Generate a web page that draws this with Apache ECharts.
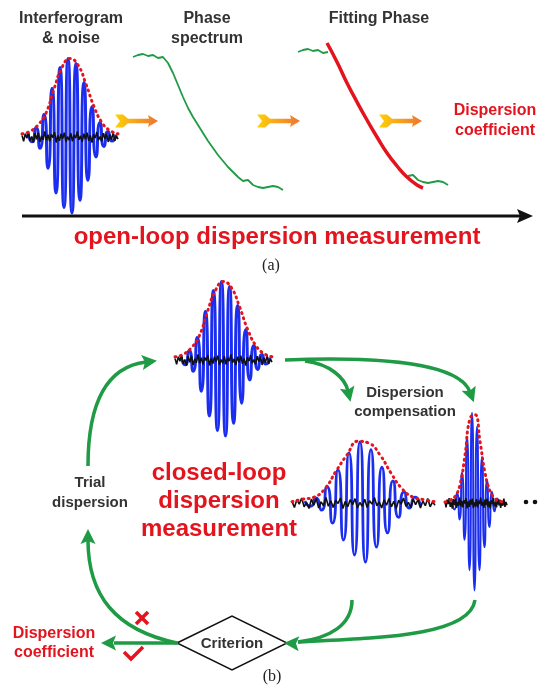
<!DOCTYPE html>
<html>
<head>
<meta charset="utf-8">
<script src="https://cdn.jsdelivr.net/npm/echarts@6/dist/echarts.min.js"></script>
<style>
  html, body { margin: 0; padding: 0; background: #fff; }
  #main { width: 541px; height: 690px; }
</style>
</head>
<body>
<div id="main"></div>
<script>
// ---- data ----
// interferogram peaks (alternating +/-, half a fringe apart), normalised amplitude
const ifgSource = [0.04, -0.06, 0.12, -0.14, 0.28, -0.39, 0.61, -0.70, 0.87, -0.88, 0.98, -0.95, 0.92, -0.79, 0.68, -0.54, 0.38, -0.25, 0.18, -0.12, 0.07, -0.05, 0.03]
const envSource = [0.04, 0.07, 0.15, 0.30, 0.60, 0.87, 0.98, 0.90, 0.66, 0.38, 0.18, 0.08, 0.04]
// chirped (broadened) interferogram
const ifgWide = [0.03, -0.05, 0.08, -0.11, 0.25, -0.31, 0.51, -0.57, 0.77, -0.80, 0.94, -0.91, 0.82, -0.68, 0.55, -0.46, 0.34, -0.22, 0.17, -0.08, 0.09, -0.05]
const envWide = [0.02, 0.06, 0.09, 0.22, 0.49, 0.74, 0.95, 0.92, 0.74, 0.46, 0.22, 0.09, 0.05, 0.02]
// compensated (narrow) interferogram
const ifgNarrow = [0.04, -0.07, 0.11, -0.18, 0.33, -0.40, 0.72, -0.73, 0.98, -0.95, 0.83, -0.73, 0.50, -0.48, 0.25, -0.26, 0.12, -0.09, 0.05, -0.03]
const envNarrow = [0.01, 0.03, 0.07, 0.20, 0.52, 0.92, 0.96, 0.67, 0.33, 0.13, 0.05, 0.02, 0.01]
// baseline noise
const noise = [0.3, -0.8, 0.6, -0.2, 0.9, -0.7, 0.1, -1, 0.7, -0.4, 0.8, -0.9, 0.2, -0.5, 1, -0.6, 0.4, -0.8, 0.5, -0.1,
  0.9, -1, 0.3, -0.7, 0.6, -0.3, 0.8, -0.9, 0.1, -0.6, 0.7, -0.8, 0.4, -0.2, 1, -0.5, 0.2, -0.9, 0.6, -0.4,
  0.8, -0.7, 0.3, -1, 0.5, -0.2, 0.9, -0.6, 0.1, -0.8, 0.7, -0.3, 0.6, -0.9, 0.4, -0.5, 0.8, -0.7, 0.2, -0.4]
// measured phase spectrum (rad) at 31 frequency samples
const phaseSpectrum = [13.3, 13.5, 13.6, 13.4, 13.5, 13.2, 13.3, 12.7, 11.7, 10.5, 9.3, 8.2, 7.3, 6.5, 5.7, 4.9,
  4.2, 3.5, 2.9, 2.3, 1.8, 1.3, 0.9, 1.0, 0.5, 0.3, 0.2, 0.3, 0.4, 0.3, 0.0]
// fitted phase
const fitFreq = [5.8, 7.8, 9.8, 11.8, 13.8, 15.8, 17.8, 19.8, 21.8, 23.8, 25]
const fitPhase = [14.2, 12.3, 10.2, 8.3, 6.5, 4.8, 3.2, 1.9, 0.8, 0.0, -0.3]
const hiddenUnderFit = [7, 21]

// ---- colours ----
const BLUE = '#1b2ef0'
const RED = '#e3141e'
const GREEN = '#1f9a45'
const DARK = '#333'

let myChart = echarts.init(document.getElementById('main'))

// interferogram panels: grid box + axis span
let panels = [
  { box: { left: 22, top: 57, width: 96, height: 160 }, span: 24, peaks: ifgSource, start: 1.5, env: envSource, noiseAmp: 5.5 / 80, lw: 3 },
  { box: { left: 175, top: 280, width: 97, height: 160 }, span: 24, peaks: ifgSource, start: 1.5, env: envSource, noiseAmp: 5.5 / 80, lw: 3 },
  { box: { left: 292, top: 438, width: 143, height: 130 }, span: 26, peaks: ifgWide, start: 2.36, env: envWide, noiseAmp: 5.5 / 65, lw: 2.8 },
  { box: { left: 445, top: 411, width: 62, height: 184 }, span: 24.8, peaks: ifgNarrow, start: 2.8, env: envNarrow, noiseAmp: 5.5 / 92, lw: 2 }
]

let grids = [], xAxes = [], yAxes = [], series = []

panels.forEach((p, k) => {
  grids.push(p.box)
  xAxes.push({ type: 'value', gridIndex: k, min: 0, max: p.span, show: false })
  yAxes.push({ type: 'value', gridIndex: k, min: -1, max: 1, show: false })
  series.push({
    type: 'line', xAxisIndex: k, yAxisIndex: k, symbol: 'none', smooth: 0.8,
    lineStyle: { color: BLUE, width: p.lw },
    data: p.peaks.map((v, i) => [p.start + i, v])
  })
  series.push({
    type: 'line', xAxisIndex: k, yAxisIndex: k, symbol: 'none',
    lineStyle: { color: '#111', width: 1.6 },
    data: noise.map((v, i) => [i * p.span / (noise.length - 1), v * p.noiseAmp])
  })
  series.push({
    type: 'line', xAxisIndex: k, yAxisIndex: k, symbol: 'none', smooth: true,
    lineStyle: { color: RED, width: 3, type: [1, 4.5], cap: 'round' },
    data: p.env.map((v, i) => [i * 2, v])
  })
})

// phase spectrum panel and fitting panel
let phaseBoxes = [
  { left: 133, top: 40, width: 150, height: 160 },
  { left: 298, top: 35, width: 150, height: 160 }
]
phaseBoxes.forEach(b => {
  let k = grids.length
  grids.push(b)
  xAxes.push({ type: 'value', gridIndex: k, min: 0, max: 30, show: false })
  yAxes.push({ type: 'value', gridIndex: k, min: -1, max: 15, show: false })
})
series.push({
  type: 'line', xAxisIndex: 4, yAxisIndex: 4, symbol: 'none',
  lineStyle: { color: GREEN, width: 1.8 },
  data: phaseSpectrum.map((v, i) => [i, v])
})
series.push({
  type: 'line', xAxisIndex: 5, yAxisIndex: 5, symbol: 'none',
  lineStyle: { color: GREEN, width: 1.8 },
  data: phaseSpectrum.map((v, i) => [i, (i >= hiddenUnderFit[0] && i <= hiddenUnderFit[1]) ? null : v])
})
series.push({
  type: 'line', xAxisIndex: 5, yAxisIndex: 5, symbol: 'none', smooth: true, clip: false,
  lineStyle: { color: RED, width: 3.5 },
  data: fitFreq.map((f, i) => [f, fitPhase[i]])
})

// ---- drawing helpers ----
function txt(text, x, y, size, color, extra) {
  return {
    type: 'text', z: 10,
    style: Object.assign({
      text: text, x: x, y: y, fill: color, align: 'center', verticalAlign: 'middle',
      font: 'bold ' + size + 'px "Liberation Sans", Arial, sans-serif', lineHeight: size * 1.25
    }, extra || {})
  }
}

function head(tx, ty, dx, dy, len, half, color) {
  let n = Math.sqrt(dx * dx + dy * dy)
  dx /= n; dy /= n
  let bx = tx - dx * len, by = ty - dy * len
  return {
    type: 'polygon', z: 10,
    shape: { points: [[tx, ty], [bx - dy * half, by + dx * half], [bx + dx * 3, by + dy * 3], [bx + dy * half, by - dx * half]] },
    style: { fill: color }
  }
}

function curve(p0, p1, p2, p3) {
  return {
    type: 'bezierCurve', z: 10,
    shape: { x1: p0[0], y1: p0[1], cpx1: p1[0], cpy1: p1[1], cpx2: p2[0], cpy2: p2[1], x2: p3[0], y2: p3[1] },
    style: { stroke: GREEN, lineWidth: 3.5, fill: null }
  }
}

function curveArrow(p0, p1, p2, p3) {
  let dx = p3[0] - p2[0], dy = p3[1] - p2[1]
  let n = Math.sqrt(dx * dx + dy * dy)
  return [curve(p0, p1, p2, p3), head(p3[0] + dx / n * 11, p3[1] + dy / n * 11, dx, dy, 15, 7.5, GREEN)]
}

function yellowArrow(x0, y0) {
  let L = 43
  let pts = [[0, -6.5], [8, -6.5], [13, -2.2], [L - 9, -2.2], [L - 10, -6], [L, 0], [L - 10, 6], [L - 9, 2.2], [13, 2.2], [8, 6.5], [0, 6.5], [5, 0]]
  return {
    type: 'polygon', z: 10,
    shape: { points: pts.map(p => [x0 + p[0], y0 + p[1]]) },
    style: {
      fill: new echarts.graphic.LinearGradient(0, 0, 1, 0, [
        { offset: 0, color: '#ffd000' },
        { offset: 0.3, color: '#f9b418' },
        { offset: 1, color: '#ee7432' }
      ])
    }
  }
}

let graphics = [
  // (a) titles
  txt('Interferogram\n& noise', 71, 29, 16, DARK),
  txt('Phase\nspectrum', 207, 29, 16, DARK),
  txt('Fitting Phase', 379, 19, 16, DARK),
  txt('Dispersion\ncoefficient', 495, 121, 16, RED),
  yellowArrow(115, 121),
  yellowArrow(257, 121),
  yellowArrow(379, 121),
  // time axis
  { type: 'line', z: 10, shape: { x1: 22, y1: 216, x2: 520, y2: 216 }, style: { stroke: '#111', lineWidth: 3 } },
  head(533, 216, 1, 0, 16, 7, '#111'),
  txt('open-loop dispersion measurement', 277, 237, 24, RED),
  txt('(a)', 271, 266, 16, '#222', { font: '16px "Liberation Serif", "Times New Roman", serif' }),

  // (b)
  txt('Dispersion\ncompensation', 405, 402, 15, DARK),
  txt('closed-loop\ndispersion\nmeasurement', 219, 501, 24, RED, { lineHeight: 28 }),
  txt('Trial\ndispersion', 90, 493, 15, DARK, { lineHeight: 20 }),
  txt('Dispersion\ncoefficient', 54, 643, 16, RED, { lineHeight: 19 }),
  txt('(b)', 272, 677, 16, '#222', { font: '16px "Liberation Serif", "Times New Roman", serif' }),
  // criterion diamond
  {
    type: 'polygon', z: 9,
    shape: { points: [[177, 643], [232, 616], [287, 643], [232, 670]] },
    style: { fill: '#fff', stroke: '#111', lineWidth: 1.5 }
  },
  txt('Criterion', 232, 644, 15, DARK),
  // red cross and tick
  { type: 'polyline', z: 10, shape: { points: [[136, 612], [148, 624]] }, style: { stroke: RED, lineWidth: 3.5, fill: null } },
  { type: 'polyline', z: 10, shape: { points: [[148, 612], [136, 624]] }, style: { stroke: RED, lineWidth: 3.5, fill: null } },
  { type: 'polyline', z: 10, shape: { points: [[124, 652], [131, 659], [143, 647]] }, style: { stroke: RED, lineWidth: 3.5, fill: null } },
  // trailing dots
  { type: 'circle', z: 10, shape: { cx: 526, cy: 502, r: 2.3 }, style: { fill: '#111' } },
  { type: 'circle', z: 10, shape: { cx: 535, cy: 502, r: 2.3 }, style: { fill: '#111' } },
  // straight arrow to the result
  { type: 'line', z: 10, shape: { x1: 178, y1: 643, x2: 114, y2: 643 }, style: { stroke: GREEN, lineWidth: 3.5 } },
  head(101, 643, -1, 0, 15, 7.5, GREEN),
  // arrows from the compensated interferograms to the criterion
  curve([352, 600], [352, 625], [330, 638], [298, 642]),
  curve([475, 600], [470, 636], [380, 638], [298, 642])
]
graphics.push(head(284, 643, -1, -0.05, 15, 7.5, GREEN))
graphics = graphics.concat(
  curveArrow([88, 466], [88, 405], [105, 367], [146, 362]),
  curveArrow([177, 643], [115, 630], [88, 595], [88, 540]),
  curveArrow([285, 360], [390, 356], [460, 365], [470, 392]),
  curveArrow([305, 361], [330, 364], [345, 378], [348, 391])
)

let option = {
  animation: false,
  grid: grids,
  xAxis: xAxes,
  yAxis: yAxes,
  series: series,
  graphic: graphics
}

myChart.setOption(option)
</script>
</body>
</html>
